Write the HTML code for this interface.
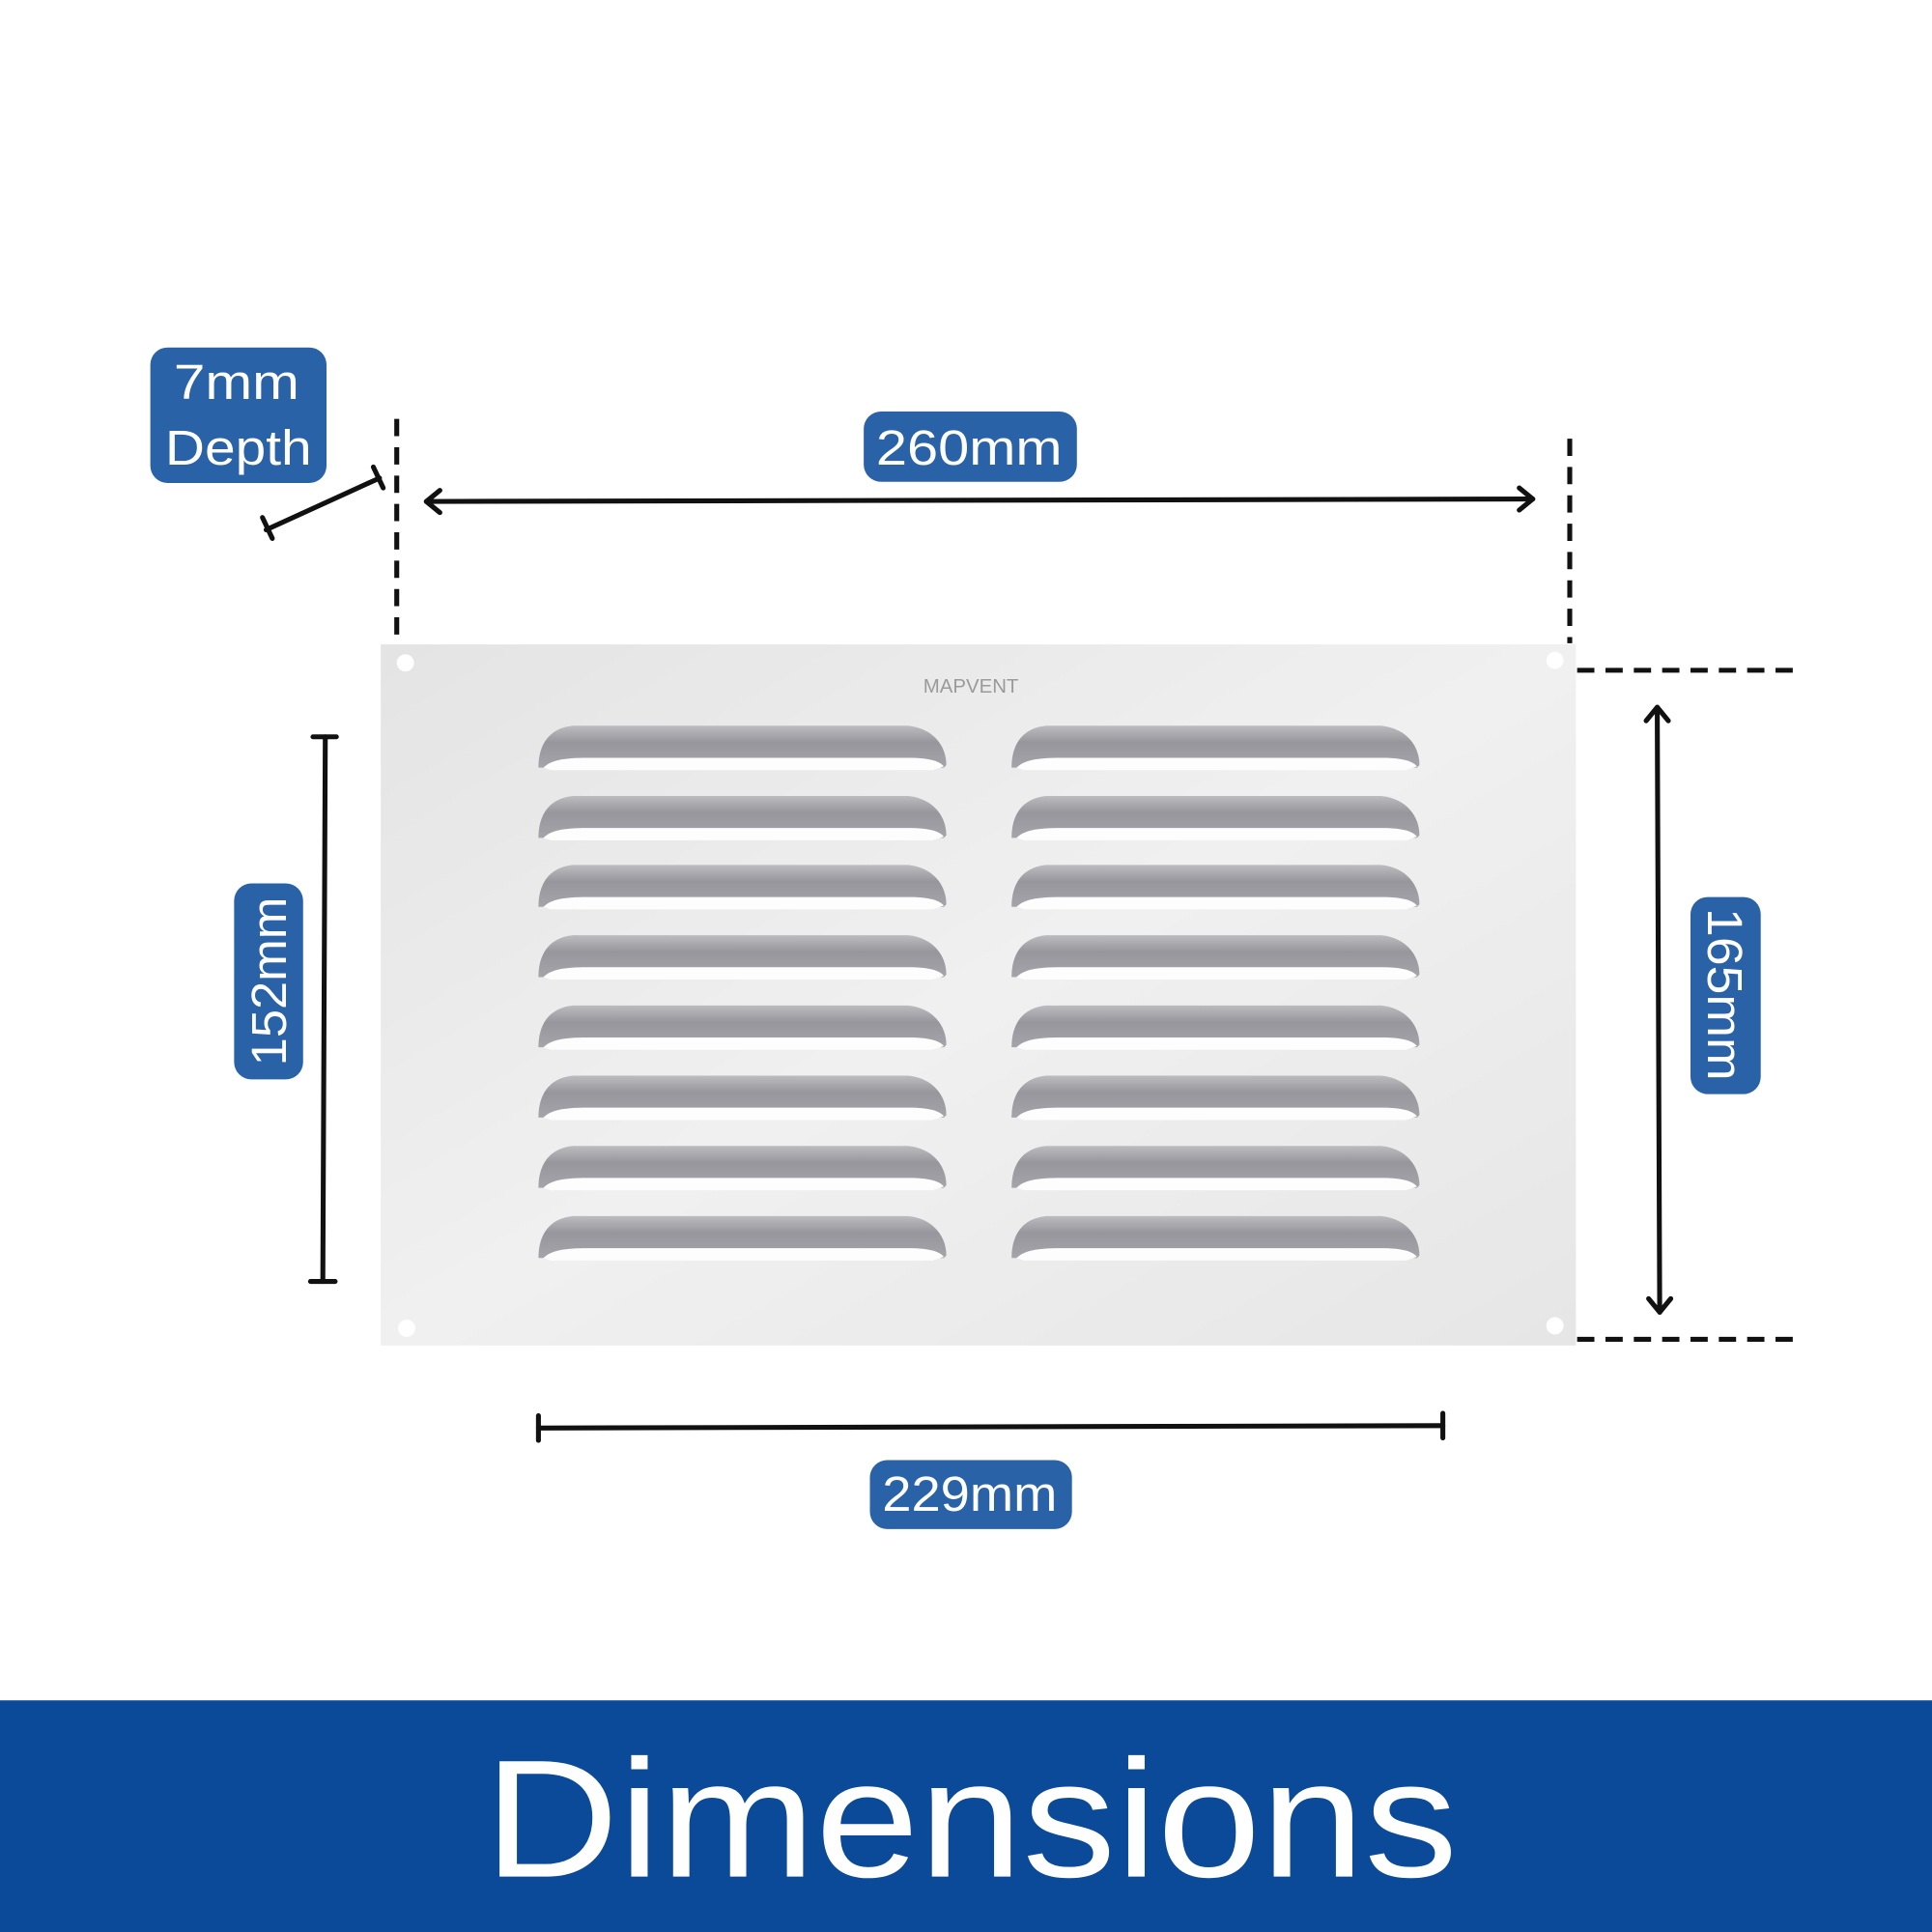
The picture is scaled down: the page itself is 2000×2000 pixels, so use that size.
<!DOCTYPE html>
<html><head><meta charset="utf-8"><style>
html,body{margin:0;padding:0;background:#fff;}
svg{display:block;}
text{font-family:"Liberation Sans",sans-serif;}
</style></head><body>
<svg width="2000" height="2000" viewBox="0 0 1568 1568" xmlns="http://www.w3.org/2000/svg">
<defs>
<linearGradient id="plate" x1="0" y1="0" x2="1" y2="1">
<stop offset="0" stop-color="#e4e4e4"/><stop offset="0.5" stop-color="#f0f0f0"/><stop offset="1" stop-color="#e6e6e6"/>
</linearGradient>
<linearGradient id="lv" x1="0" y1="0" x2="0" y2="1">
<stop offset="0" stop-color="#bcbcc0"/><stop offset="0.4" stop-color="#96969c"/><stop offset="1" stop-color="#a4a4aa"/>
</linearGradient>
<g id="louverL">
<path d="M0,36 C0,18 8,4 28,2 L300,2 C320,4 331,18 331,34 L329,36 Z" fill="url(#lv)"/>
<path d="M4,36 C10,30 20,28 40,28 L300,28 C318,28 326,31 329,35 L320,38 L10,38 Z" fill="#fdfdfd"/>
</g>
</defs>
<rect width="1568" height="1568" fill="#fff"/>
<rect x="309" y="523" width="970" height="569" fill="url(#plate)"/>
<circle cx="329" cy="538" r="7" fill="#fff"/>
<circle cx="1262" cy="536" r="7" fill="#fff"/>
<circle cx="330" cy="1078" r="7" fill="#fff"/>
<circle cx="1262" cy="1076" r="7" fill="#fff"/>
<text x="788" y="562" font-size="16" fill="#9a9a9a" text-anchor="middle">MAPVENT</text>
<g>
<use href="#louverL" x="437" y="587"/><use href="#louverL" x="821" y="587"/>
<use href="#louverL" x="437" y="644"/><use href="#louverL" x="821" y="644"/>
<use href="#louverL" x="437" y="700"/><use href="#louverL" x="821" y="700"/>
<use href="#louverL" x="437" y="757"/><use href="#louverL" x="821" y="757"/>
<use href="#louverL" x="437" y="814"/><use href="#louverL" x="821" y="814"/>
<use href="#louverL" x="437" y="871"/><use href="#louverL" x="821" y="871"/>
<use href="#louverL" x="437" y="928"/><use href="#louverL" x="821" y="928"/>
<use href="#louverL" x="437" y="985"/><use href="#louverL" x="821" y="985"/>
</g>
<g stroke="#111" stroke-width="4" stroke-dasharray="14,9" fill="none">
<line x1="322" y1="340" x2="322" y2="522"/>
<line x1="1274" y1="356" x2="1274" y2="522"/>
<line x1="1280" y1="544" x2="1455" y2="544"/>
<line x1="1280" y1="1087" x2="1455" y2="1087"/>
</g>
<g stroke="#111" stroke-width="4" fill="none" stroke-linecap="round" stroke-linejoin="round">
<line x1="346" y1="407" x2="1244" y2="405"/>
<polyline points="357,398 346,407 357,416"/>
<polyline points="1233,396 1244,405 1233,414"/>
<line x1="216" y1="430" x2="308" y2="388"/>
<line x1="213" y1="420" x2="221" y2="437"/>
<line x1="303" y1="379" x2="311" y2="396"/>
<line x1="264" y1="598" x2="262" y2="1040"/>
<line x1="254" y1="598" x2="273" y2="598"/>
<line x1="252" y1="1040" x2="272" y2="1040"/>
<line x1="1345" y1="574" x2="1347" y2="1065"/>
<polyline points="1336,585 1345,574 1354,585"/>
<polyline points="1338,1054 1347,1065 1356,1054"/>
<line x1="437" y1="1159" x2="1171" y2="1157"/>
<line x1="437" y1="1149" x2="437" y2="1169"/>
<line x1="1171" y1="1147" x2="1171" y2="1167"/>
</g>
<g fill="#2a62a8">
<rect x="122" y="282" width="143" height="110" rx="14"/>
<rect x="701" y="334" width="173" height="57" rx="14"/>
<rect x="706" y="1185" width="164" height="56" rx="14"/>
<rect x="190" y="717" width="56" height="159" rx="14"/>
<rect x="1372" y="728" width="57" height="160" rx="14"/>
</g>
<g fill="#fff" font-size="40">
<text x="141" y="324" textLength="102" lengthAdjust="spacingAndGlyphs">7mm</text>
<text x="134" y="377" textLength="119" lengthAdjust="spacingAndGlyphs">Depth</text>
<text x="711" y="377" textLength="151" lengthAdjust="spacingAndGlyphs">260mm</text>
<text x="716" y="1226" textLength="142" lengthAdjust="spacingAndGlyphs">229mm</text>
<text transform="translate(232,865) rotate(-90)" textLength="137" lengthAdjust="spacingAndGlyphs">152mm</text>
<text transform="translate(1386,737) rotate(90)" textLength="140" lengthAdjust="spacingAndGlyphs">165mm</text>
</g>
<rect x="0" y="1380" width="1568" height="188" fill="#0a4a98"/>
<text x="393" y="1523" font-size="136" fill="#fff" textLength="790" lengthAdjust="spacingAndGlyphs">Dimensions</text>
</svg>
</body></html>
